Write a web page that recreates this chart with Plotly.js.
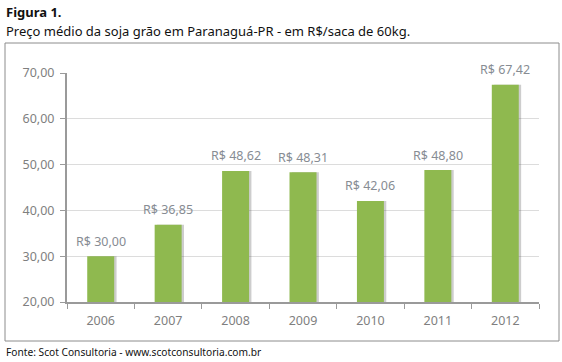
<!DOCTYPE html>
<html>
<head>
<meta charset="utf-8">
<script src="https://cdn.plot.ly/plotly-3.0.1.min.js"></script>
<style>html,body{margin:0;padding:0;background:#fff;}#chart{width:562px;height:362px;}</style>
</head>
<body>
<div id="chart"></div>
<script>
const years = ['2006', '2007', '2008', '2009', '2010', '2011', '2012'];
const prices = [30.00, 36.85, 48.62, 48.31, 42.06, 48.80, 67.42];
const yTicks = [20, 30, 40, 50, 60, 70];

const figTitle = 'Figura 1.';
const subTitle = 'Preço médio da soja grão em Paranaguá-PR - em R$/saca de 60kg.';
const source = 'Fonte: Scot Consultoria - www.scotconsultoria.com.br';

const FONT = 'Noto Sans, sans-serif';
const L = 67, R = 23, T = 73, B = 60, W = 562, H = 362;
const pw = W - L - R, ph = H - T - B;
const px = x => (x - L) / pw;
const py = y => (H - B - y) / ph;

const shadow = {
  type: 'bar', x: years, y: prices.map(v => v - 20), base: 20,
  width: 0.4, offset: -0.165,
  marker: {color: 'rgba(90,90,90,0.3)', line: {width: 0}},
  hoverinfo: 'skip', showlegend: false
};
const bars = {
  type: 'bar', x: years, y: prices.map(v => v - 20), base: 20,
  width: 0.4, offset: -0.2,
  marker: {color: '#8fb94f', line: {width: 0}},
  showlegend: false
};

// value labels placed through the category axis (index of each year)
const valueLabels = years.map((yr, i) => ({
  x: i, y: prices[i], xref: 'x', yref: 'y',
  text: 'R$ ' + prices[i].toFixed(2).replace('.', ','),
  showarrow: false, xanchor: 'center', yanchor: 'middle', yshift: 15,
  font: {family: FONT, size: 12.5, color: '#878c93'}
}));

const layout = {
  width: W, height: H,
  margin: {l: L, r: R, t: T, b: B, pad: 0},
  paper_bgcolor: '#fff', plot_bgcolor: '#fff',
  separators: ',.',
  barmode: 'overlay',
  showlegend: false,
  font: {family: FONT, color: '#7f7f7f'},
  xaxis: {
    type: 'category', tickson: 'boundaries', ticks: 'outside', ticklen: 5,
    tickcolor: '#9a9a9a', tickwidth: 1,
    showline: true, linecolor: '#9a9a9a', linewidth: 2,
    showgrid: false, zeroline: false, ticklabelstandoff: 6,
    tickfont: {family: FONT, size: 12.5, color: '#7f7f7f'},
    range: [-0.5, 6.5]
  },
  yaxis: {
    range: [20, 70], tickvals: yTicks, tickformat: '.2f',
    ticks: 'outside', ticklen: 5, tickcolor: '#9a9a9a',
    showline: true, linecolor: '#9a9a9a', linewidth: 2,
    showgrid: true, gridcolor: '#dcdcdc', gridwidth: 1,
    zeroline: false, ticklabelstandoff: 3,
    tickfont: {family: FONT, size: 12.5, color: '#7f7f7f'}
  },
  shapes: [
    {type: 'rect', xref: 'paper', yref: 'paper',
     x0: px(5), x1: px(559), y0: py(341), y1: py(43),
     line: {color: '#8c8c8c', width: 1}, layer: 'below'}
  ],
  annotations: valueLabels.concat([
    {text: '<b>' + figTitle + '</b>', xref: 'paper', yref: 'paper', x: px(4), y: py(12),
     xanchor: 'left', yanchor: 'middle', showarrow: false,
     font: {family: FONT, size: 13, color: '#111'}},
    {text: subTitle, xref: 'paper', yref: 'paper', x: px(4), y: py(31),
     xanchor: 'left', yanchor: 'middle', showarrow: false,
     font: {family: FONT, size: 13, color: '#111'}},
    {text: source, xref: 'paper', yref: 'paper', x: px(4), y: py(352),
     xanchor: 'left', yanchor: 'middle', showarrow: false,
     font: {family: FONT, size: 10.2, color: '#111'}}
  ])
};

Plotly.newPlot('chart', [shadow, bars], layout, {displayModeBar: false, staticPlot: true});
</script>
</body>
</html>
